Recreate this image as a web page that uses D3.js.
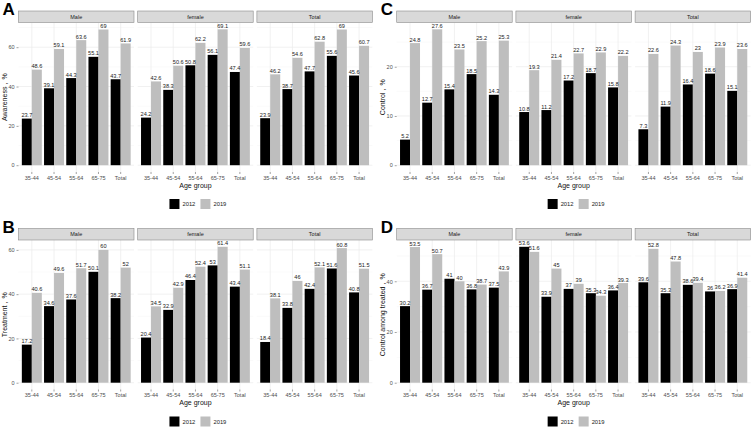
<!DOCTYPE html>
<html><head><meta charset="utf-8">
<script src="https://cdn.jsdelivr.net/npm/d3@7"></script>
<style>
body{margin:0;background:#fff;}
svg{display:block;font-family:"Liberation Sans",Arial,Helvetica,sans-serif;}
</style></head>
<body>
<script>
const ageGroups = ["35-44","45-54","55-64","65-75","Total"];
const facets = ["Male","female","Total"];
const years = ["2012","2019"];

// A: Awareness
const awareness2012 = {Male:[23.7,39.1,44.3,55.1,43.7], female:[24.2,38.3,50.8,56.1,47.4], Total:[23.9,38.7,47.7,55.6,45.6]};
const awareness2019 = {Male:[48.6,59.1,63.6,69,61.9], female:[42.6,50.6,62.2,69.1,59.6], Total:[46.2,54.6,62.8,69,60.7]};
// B: Treatment
const treatment2012 = {Male:[17.2,34.6,37.6,50.1,38.2], female:[20.4,32.9,46.4,53,43.4], Total:[18.4,33.8,42.4,51.6,40.8]};
const treatment2019 = {Male:[40.6,49.6,51.7,60,52], female:[34.5,42.9,52.4,61.4,51.1], Total:[38.1,46,52.1,60.8,51.5]};
// C: Control
const control2012 = {Male:[5.2,12.7,15.4,18.5,14.3], female:[10.8,11.2,17.2,18.7,15.8], Total:[7.3,11.9,16.4,18.6,15.1]};
const control2019 = {Male:[24.8,27.6,23.5,25.2,25.3], female:[19.3,21.4,22.7,22.9,22.2], Total:[22.6,24.3,23,23.9,23.6]};
// D: Control among treated
const ctrlTreated2012 = {Male:[30.2,36.7,41,36.8,37.5], female:[53.6,33.9,37,35.3,36.4], Total:[39.6,35.3,38.6,36,36.9]};
const ctrlTreated2019 = {Male:[53.5,50.7,40,38.7,43.9], female:[51.6,45,39,34.3,39.3], Total:[52.8,47.8,39.4,36.2,41.4]};

const ticksA = [0,20,40,60], ticksB = [0,20,40,60], ticksC = [0,10,20], ticksD = [0,20,40];

const blocks = [
  {letter:"A", title:"Awareness，%", d12:awareness2012, d19:awareness2019, ticks:ticksA, x0:18.5, top:22.5},
  {letter:"B", title:"Treatment，%", d12:treatment2012, d19:treatment2019, ticks:ticksB, x0:18.5, top:240},
  {letter:"C", title:"Control，%", d12:control2012, d19:control2019, ticks:ticksC, x0:396.7, top:22.5},
  {letter:"D", title:"Control among treated，%", d12:ctrlTreated2012, d19:ctrlTreated2019, ticks:ticksD, x0:396.7, top:240}
];

const W=753, H=428;
const panelW=115.5, gap=3.7, panelH=149.5, stripH=11.5;
const colors = {"2012":"#000000","2019":"#bebebe"};

const svg = d3.select("body").append("svg").attr("width",W).attr("height",H);

blocks.forEach(b=>{
  const g = svg.append("g");
  const maxV = d3.max(facets.flatMap(f=>b.d12[f].concat(b.d19[f])));
  const ex = maxV*0.05;
  const y = d3.scaleLinear().domain([-ex, maxV+ex]).range([b.top+panelH, b.top]);
  const step = b.ticks[1]-b.ticks[0];
  const minor = [];
  for(let v=b.ticks[0]+step/2; v<maxV+ex; v+=step) minor.push(v);

  facets.forEach((f,fi)=>{
    const left = b.x0 + fi*(panelW+gap), right = left+panelW;
    const x = d3.scaleBand().domain(ageGroups).range([left,right]).paddingInner(0.1).paddingOuter(0.15);
    const xs = d3.scaleBand().domain(years).range([0,x.bandwidth()]);
    const pg = g.append("g");
    // gridlines
    pg.selectAll(".mn").data(minor).enter().append("line")
      .attr("x1",left).attr("x2",right).attr("y1",d=>y(d)).attr("y2",d=>y(d))
      .attr("stroke","#f4f4f4").attr("stroke-width",0.5);
    pg.selectAll(".mj").data(b.ticks).enter().append("line")
      .attr("x1",left).attr("x2",right).attr("y1",d=>y(d)).attr("y2",d=>y(d))
      .attr("stroke","#ebebeb").attr("stroke-width",0.7);
    pg.selectAll(".vg").data(ageGroups).enter().append("line")
      .attr("x1",d=>x(d)+x.bandwidth()/2).attr("x2",d=>x(d)+x.bandwidth()/2)
      .attr("y1",b.top).attr("y2",b.top+panelH)
      .attr("stroke","#ebebeb").attr("stroke-width",0.7);
    // strip
    pg.append("rect").attr("x",left).attr("y",b.top-stripH).attr("width",panelW).attr("height",stripH)
      .attr("fill","#d9d9d9").attr("stroke","#8a8a8a").attr("stroke-width",0.6);
    pg.append("text").attr("x",(left+right)/2).attr("y",b.top-stripH/2+2)
      .attr("text-anchor","middle").attr("font-size",5.5).attr("fill","#1a1a1a").text(f);
    // bars
    const rows = [];
    ageGroups.forEach((a,i)=>{
      rows.push({a, yr:"2012", v:b.d12[f][i]});
      rows.push({a, yr:"2019", v:b.d19[f][i]});
    });
    pg.selectAll(".bar").data(rows).enter().append("rect")
      .attr("x",d=>x(d.a)+xs(d.yr)).attr("width",xs.bandwidth())
      .attr("y",d=>y(d.v)).attr("height",d=>y(0)-y(d.v))
      .attr("fill",d=>colors[d.yr]);
    pg.selectAll(".lbl").data(rows).enter().append("text")
      .attr("x",d=>x(d.a)+xs(d.yr)+xs.bandwidth()/2).attr("y",d=>y(d.v)-1.5)
      .attr("text-anchor","middle").attr("font-size",5.6).attr("fill","#222")
      .text(d=>d.v);
    // x axis
    const xa = pg.append("g").attr("transform",`translate(0,${b.top+panelH})`)
      .call(d3.axisBottom(x).tickSize(2).tickPadding(2));
    xa.select(".domain").remove();
    xa.selectAll("line").attr("stroke","#444").attr("stroke-width",0.5);
    xa.selectAll("text").attr("font-size",5.5).attr("fill","#4d4d4d").attr("font-family","Liberation Sans, Arial, sans-serif");
    if(fi===0){
      const ya = pg.append("g").attr("transform",`translate(${left},0)`)
        .call(d3.axisLeft(y).tickValues(b.ticks).tickSize(2).tickPadding(2));
      ya.select(".domain").remove();
      ya.selectAll("line").attr("stroke","#444").attr("stroke-width",0.5);
      ya.selectAll("text").attr("font-size",5.5).attr("fill","#4d4d4d").attr("font-family","Liberation Sans, Arial, sans-serif");
    }
  });
  const plotL = b.x0, plotR = b.x0 + 3*panelW + 2*gap;
  // y title
  g.append("text").attr("transform",`translate(${b.x0-11.5},${b.top+panelH/2}) rotate(-90)`)
    .attr("text-anchor","middle").attr("font-size",7).attr("fill","#111").text(b.title);
  // x title
  g.append("text").attr("x",(plotL+plotR)/2).attr("y",b.top+panelH+15.5)
    .attr("text-anchor","middle").attr("font-size",7).attr("fill","#111").text("Age group");
  // letter
  g.append("text").attr("x",b.x0-16).attr("y",b.top-7.5).attr("font-size",17).attr("font-weight","bold")
    .attr("fill","#000").text(b.letter);
  // legend
  const cx = (plotL+plotR)/2;
  const lg = g.append("g").attr("transform",`translate(${cx-26},${b.top+panelH+27})`);
  const lx = d3.scaleOrdinal().domain(years).range([0,31]);
  years.forEach(yr=>{
    lg.append("rect").attr("x",lx(yr)).attr("y",0).attr("width",10).attr("height",10).attr("fill",colors[yr]);
    lg.append("text").attr("x",lx(yr)+13).attr("y",7.3).attr("font-size",5.8).attr("fill","#222").text(yr);
  });
});
</script>
</body></html>
